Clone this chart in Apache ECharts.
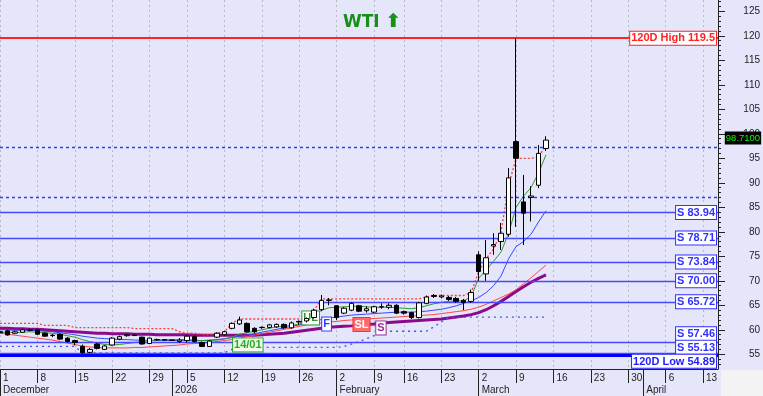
<!DOCTYPE html>
<html><head><meta charset="utf-8">
<script src="https://cdn.jsdelivr.net/npm/echarts@6/dist/echarts.min.js"></script>
<style>html,body{margin:0;padding:0;background:#e6e6fa}#c{width:763px;height:396px}</style>
</head><body><div id="c"></div>
<script>
// ---- categories: trading days (one missing day in the week of Feb 9) ----
const skippedDays = ['2026-02-13'];
const categories = [];
(function () {
  const d = new Date(2025, 11, 1);
  const p = n => (n < 10 ? '0' : '') + n;
  while (categories.length < 97) {
    const w = d.getDay();
    const s = d.getFullYear() + '-' + p(d.getMonth() + 1) + '-' + p(d.getDate());
    if (w > 0 && w < 6 && skippedDays.indexOf(s) < 0) categories.push(s);
    d.setDate(d.getDate() + 1);
  }
})();
const monthNames = ['January','February','March','April','May','June','July','August','September','October','November','December'];

// ---- candles ----
const opens  = [59.6,59.8,59.3,59.5,59.9,60.0,59.3,58.9,59.1,58.3, 57.8,56.6,55.4,57.1,56.0,56.9,58.1,58.8,58.9,58.5, 57.2,58.0,58.0,57.9,57.6,57.8,58.6,57.4,56.6,58.5, 59.0,60.3,61.2,61.3,60.3,60.5,60.5,60.6,61.1,60.4, 61.7,61.8,62.5,64.1,66.0,64.9,63.4,64.0,64.9,63.9, 63.6,64.7,64.6,65.0,63.7,63.5,62.5,65.4,66.8,66.7, 66.6,66.4,66.0,65.8,75.3,71.4,77.1,78.0,79.5,98.4, 86.1,87.0,89.5,97.0];
const closes = [59.4,58.95,59.6,60.0,60.0,59.1,58.7,58.85,58.1,57.6, 57.4,55.3,56.0,56.2,56.7,58.3,58.6,59.0,58.85,57.1, 58.3,57.95,57.9,57.85,57.9,58.7,57.6,56.6,57.7,59.3, 59.6,61.3,62.0,59.6,59.6,60.45,61.0,61.1,60.4,61.4, 61.6,62.3,64.0,66.0,66.1,62.5,64.4,65.4,63.8,64.3, 64.7,64.65,65.0,63.4,63.4,62.5,65.5,66.7,67.0,66.9, 66.2,65.8,65.6,67.6,71.9,74.7,77.4,79.7,91.0,95.0, 83.8,87.3,96.0,98.71];
const lows   = [59.2,58.8,59.1,59.4,59.7,59.0,58.6,58.5,57.9,57.4, 56.8,55.1,55.2,56.0,55.9,56.8,57.9,58.6,58.7,57.0, 57.1,57.8,57.7,57.8,57.3,57.4,57.4,56.5,56.5,58.3, 58.8,60.1,61.0,59.4,59.3,60.2,60.3,60.4,60.2,60.2, 61.0,61.5,62.3,63.8,65.0,62.0,63.2,63.8,63.6,63.5, 63.4,64.3,64.2,63.2,63.1,62.2,62.3,65.2,66.5,66.4, 65.9,65.5,64.0,65.5,70.0,70.0,75.3,76.3,79.0,81.0, 77.3,82.1,88.9,96.5];
const highs  = [59.9,60.0,59.8,60.2,60.3,60.2,59.5,59.1,59.3,58.5, 58.0,57.0,56.3,57.3,56.9,58.5,58.8,59.2,59.1,58.6, 58.4,58.2,58.1,58.0,58.3,58.9,58.8,57.6,57.9,59.5, 59.8,61.5,62.7,61.5,60.5,60.7,61.2,61.3,61.3,61.7, 61.9,62.5,64.3,67.1,66.5,65.0,64.6,65.6,65.1,64.8, 64.9,65.4,65.4,65.2,63.9,63.7,65.7,67.0,67.3,67.2, 66.9,66.7,66.3,68.2,76.0,78.3,79.7,81.8,93.0,119.5, 91.6,89.3,97.7,99.5];

// ---- indicator lines ----
const greenLine  = [59.5,59.5,59.4,59.5,59.6,59.5,59.4,59.3,59.1,58.8, 58.5,58.0,57.6,57.3,57.0,56.9,57.0,57.2,57.4,57.6, 57.8,57.9,58.0,58.0,58.0,58.0,57.9,57.8,57.8,57.9, 58.1,58.5,59.1,59.4,59.7,60.0,60.3,60.6,60.7,60.9, 61.2,61.7,62.8,64.0,64.5,64.6,64.7,64.8,64.8,64.7, 64.6,64.6,64.6,64.5,64.4,64.3,64.5,64.9,65.3,65.6, 65.8,65.9,65.9,66.8,70.5,72.2,74.0,75.9,79.7,85.0, 87.3,89.0,92.0,95.7];
const blueLine   = [60.0,60.0,59.9,59.9,59.9,59.8,59.7,59.6,59.4,59.2, 59.0,58.7,58.5,58.3,58.2,58.1,58.0,58.0,57.9,57.9, 57.8,57.8,57.8,57.8,57.8,57.8,57.8,57.8,57.9,58.0, 58.2,58.4,58.7,58.9,59.2,59.5,59.8,60.1,60.4,60.7, 61.0,61.3,61.7,62.1,62.4,62.6,62.8,63.0,63.1,63.2, 63.3,63.4,63.5,63.6,63.6,63.6,63.7,63.8,64.0,64.2, 64.5,64.9,65.4,65.9,66.6,67.6,69.0,71.0,74.5,77.0, 78.0,79.5,82.0,84.3];
const redLine    = [59.3,59.1,58.9,58.7,58.5,58.3,58.1,57.9,57.6,57.3, 57.0,56.7,56.5,56.4,56.3,56.3,56.3,56.3,56.4,56.4, 56.5,56.6,56.7,56.8,56.9,57.1,57.2,57.3,57.4,57.6, 57.8,58.0,58.3,58.6,58.9,59.2,59.5,59.8,60.1,60.4, 60.7,61.0,61.2,61.4,61.6,61.7,61.9,62.0,62.1,62.2, 62.3,62.4,62.5,62.6,62.7,62.8,62.9,63.0,63.1,63.3, 63.5,63.7,63.9,64.2,64.6,65.2,65.9,66.6,67.3,68.2, 69.4,70.6,71.9,73.2];
const purpleLine = [60.3,60.3,60.2,60.2,60.1,60.1,60.0,59.9,59.8,59.7, 59.6,59.5,59.4,59.3,59.3,59.2,59.2,59.2,59.1,59.1, 59.1,59.0,59.0,59.0,59.0,59.0,58.9,58.9,58.9,58.9, 58.9,58.9,58.9,58.9,58.9,59.0,59.1,59.2,59.3,59.5, 59.7,59.9,60.1,60.3,60.5,60.6,60.7,60.8,61.0,61.1, 61.2,61.4,61.5,61.6,61.7,61.8,61.9,62.0,62.1,62.2, 62.4,62.6,62.8,63.1,63.5,64.1,64.9,65.8,66.8,67.8, 68.8,69.7,70.5,71.2];
const upperStop  = [61.3,61.3,61.3,61.3,61.3,61.3,60.9,60.9,60.9,60.9, 60.45,60.45,60.45,60.45,60.45,60.45,60.45,60.45,60.25,60.25, 60.25,60.25,60.25,60.25,59.6,59.3,59.3,59.1,59.0,59.3, 59.6,61.3,62.2,62.2,62.2,62.2,62.2,62.2,62.2,62.2, 62.2,62.2,64.0,66.3,66.3,66.3,66.3,66.3,66.3,66.3, 66.3,66.3,66.3,66.3,66.3,66.3,66.3,66.7,67.0,67.0, 67.0,67.0,67.0,67.6,71.9,74.5,76.5,80.0,89.5,95.0, 95.0,95.0,95.2,97.7];
const lowerStop  = [56.6,56.6,56.6,56.6,56.6,56.6,56.6,56.6,56.6,56.6, 56.6,55.3,55.3,55.3,55.3,55.3,55.3,55.3,55.3,55.3, 55.3,55.3,55.3,55.3,55.3,55.3,55.3,55.3,55.3,55.3, 55.3,56.0,56.4,56.4,56.4,56.4,56.4,56.4,56.4,56.4, 56.4,56.4,56.4,56.4,56.4,56.4,56.6,57.1,57.6,58.2, 58.8,59.3,59.7,59.7,59.7,59.7,59.7,59.7,60.6,61.6, 62.6,62.6,62.6,62.6,62.6,62.6,62.6,62.6,62.6,62.6, 62.6,62.6,62.6,62.6];

// ---- horizontal levels ----
const supportLevels = [83.94, 78.71, 73.84, 70.00, 65.72, 57.46, 55.13];
const high120 = 119.5;
const low120 = 54.89;
const dottedLevels = [97.35, 87.1];
const lastPrice = 98.71;

// ---- y tick labels ----
const yTickValues = [55,60,65,70,75,80,85,90,95,100,105,110,115,120,125];
const yMinorValues = [];
for (let v = 53; v <= 127; v++) yMinorValues.push(v);

// ---- annotations (line, index, text) ----
const annUL = { idx: 41, text: 'UL' };
const annF = { idx: 44, text: 'F' };
const annSL = { idx: 48, text: 'SL' };
const annS = { idx: 51, text: 'S' };
const annDate = { idx: 32, text: '14/01' };

const FONT = 'Liberation Sans, Arial, sans-serif';
const toDate = s => { const a = s.split('-'); return new Date(+a[0], +a[1] - 1, +a[2]); };
const dates = categories.map(toDate);
const isWeekStart = i => i === 0 || dates[i].getDay() <= dates[i - 1].getDay();
const isMonthStart = i => i === 0 || dates[i].getMonth() !== dates[i - 1].getMonth();

const boxLabel = (color, bg, extra) => Object.assign({
  show: true, fontFamily: FONT, fontWeight: 'bold', fontSize: 11, color: color,
  backgroundColor: bg, borderColor: color, borderWidth: 1, padding: [1, 1, 0, 1], lineHeight: 12
}, extra || {});

function annPoint(seriesData, ann, color, bg, textColor, offset) {
  return {
    coord: [categories[ann.idx], seriesData[ann.idx]],
    label: boxLabel(textColor || color, bg, { borderColor: color, position: 'inside', offset: offset, formatter: ann.text })
  };
}

function lineSeries(name, data, color, width, type, z) {
  return {
    type: 'line', name: name, data: data, symbol: 'none', showSymbol: false, silent: true,
    lineStyle: { color: color, width: width, type: type }, z: z, emphasis: { disabled: true },
    animation: false
  };
}

const lineLabel = (text, color, position, distance) => boxLabel(color, '#ffffff', {
  position: position, distance: distance, formatter: text
});

const markLineData = [];
dottedLevels.forEach(v => markLineData.push({
  yAxis: v, lineStyle: { color: '#2b3dff', width: 1.3, type: [3, 3] }, label: { show: false }
}));
supportLevels.forEach((v) => {
  let pos = 'insideEnd', dist = [2, 0];
  if (v === 57.46) { pos = 'insideEndTop'; dist = [2, 2]; }
  if (v === 55.13) { pos = 'insideEndTop'; dist = [2, 0]; }
  markLineData.push({
    yAxis: v, lineStyle: { color: '#4848ff', width: 1.3, type: 'solid' },
    label: lineLabel('S ' + v.toFixed(2), '#3030ff', pos, dist)
  });
});
markLineData.push({
  yAxis: low120, lineStyle: { color: '#0000ff', width: 3, type: 'solid' },
  label: lineLabel('120D Low ' + low120, '#2020ff', 'insideEndBottom', [2, 0])
});
markLineData.push({
  yAxis: high120, lineStyle: { color: '#ff2424', width: 2, type: 'solid' },
  label: lineLabel('120D High ' + high120, '#ff2020', 'insideEnd', [2, 0])
});

const lastIdx = closes.length - 1;

const chart = echarts.init(document.getElementById('c'), null, { renderer: 'canvas' });
chart.setOption({
  animation: false,
  backgroundColor: '#e6e6fa',
  title: {
    text: 'WTI {a|⬆}', left: 338, top: 8,
    textStyle: { color: '#179017', fontSize: 17, fontWeight: 'bold', fontFamily: 'DejaVu Sans',
      rich: { a: { color: '#179017', fontSize: 19, fontFamily: 'DejaVu Sans', fontWeight: 'bold' } } }
  },
  grid: { left: -2, right: 43, top: 0, bottom: 27 },
  xAxis: [{
    type: 'category', data: categories, boundaryGap: false,
    axisLine: { show: true, lineStyle: { color: '#222', width: 1 } },
    axisTick: { show: true, interval: isWeekStart, length: 14, lineStyle: { color: '#222' } },
    axisLabel: { interval: isWeekStart, formatter: (v) => String(toDate(v).getDate()), align: 'left',
      padding: [0, 0, 0, 3], margin: 4, fontSize: 10, color: '#222', fontFamily: FONT },
    splitLine: { show: true, interval: isWeekStart, lineStyle: { color: '#b9b9c6', width: 1, type: [2, 3] } }
  }, {
    type: 'category', data: categories, boundaryGap: false, position: 'bottom',
    axisLine: { show: false },
    axisTick: { show: true, interval: isMonthStart, length: 27, lineStyle: { color: '#222' } },
    axisLabel: { interval: isMonthStart, formatter: (v) => { const d = toDate(v); return d.getMonth() === 0 ? String(d.getFullYear()) : monthNames[d.getMonth()]; },
      align: 'left', padding: [0, 0, 0, 3], margin: 16, fontSize: 10, color: '#222', fontFamily: FONT },
    splitLine: { show: false }
  }],
  yAxis: [{
    type: 'value', position: 'right', min: 52.0, max: 127.3, scale: true,
    axisLine: { show: true, lineStyle: { color: '#222', width: 1 } },
    axisTick: { show: true, customValues: yTickValues, length: 7, lineStyle: { color: '#222' } },
    axisLabel: { customValues: yTickValues, fontSize: 10, color: '#222', align: 'right', margin: 42, fontFamily: FONT },
    splitLine: { show: false }
  }, {
    type: 'value', position: 'right', min: 52.0, max: 127.3, scale: true,
    axisLine: { show: false },
    axisTick: { show: true, customValues: yMinorValues, length: 3, lineStyle: { color: '#222' } },
    axisLabel: { show: false },
    splitLine: { show: false }
  }],
  graphic: [{ type: 'rect', shape: { x: 721, y: 370, width: 42, height: 26 }, style: { fill: '#f3f3f3' }, z: 100 }],
  series: [
    {
      type: 'line', name: 'levels', data: categories.map(() => null), symbol: 'none', silent: true, clip: false, z: 2,
      markLine: { symbol: 'none', silent: true, animation: false, data: markLineData }
    },
    lineSeries('purple', purpleLine, '#8b0a8b', 3, 'solid', 3),
    lineSeries('red', redLine, '#ff4545', 1, 'solid', 3),
    lineSeries('blue', blueLine, '#3348ff', 1, 'solid', 3),
    lineSeries('green', greenLine, '#2f9a2f', 1, 'solid', 3),
    lineSeries('upperStop', upperStop, '#ff3c3c', 1.3, [2, 2], 3),
    lineSeries('lowerStop', lowerStop, '#3a55ff', 1.3, [2, 4], 3),
    {
      type: 'candlestick', name: 'WTI', z: 5, barWidth: 5, silent: true,
      data: opens.map((o, i) => [o, closes[i], lows[i], highs[i]]),
      itemStyle: { color: '#ffffff', color0: '#000000', borderColor: '#000000', borderColor0: '#000000', borderWidth: 1 }
    },
    {
      type: 'line', name: 'annotations', data: categories.map(() => null), symbol: 'none', silent: true, clip: false, z: 10,
      markPoint: {
        symbol: 'rect', symbolSize: 1, silent: true, animation: false, itemStyle: { color: 'rgba(0,0,0,0)' },
        data: [
          annPoint(greenLine, annUL, '#2c9a2c', '#ffffff', null, [4, -3.5]),
          annPoint(blueLine, annF, '#2b3dff', '#ffffff', null, [-2.5, 6]),
          annPoint(redLine, annSL, '#ff3030', '#ff6a6a', '#ffffff', [2.5, 5]),
          annPoint(purpleLine, annS, '#9a2d9a', '#ffffff', null, [-0.5, 5]),
          annPoint(lowerStop, annDate, '#2ca82c', '#eefbe9', null, [8.5, -2.5]),
          {
            coord: [categories[lastIdx], closes[lastIdx]],
            label: { show: true, position: 'inside', offset: [197, -2], formatter: closes[lastIdx].toFixed(4),
              color: '#00ff00', backgroundColor: '#000000', padding: [1, 1, 0, 1], fontSize: 9.5,
              lineHeight: 12, fontFamily: FONT }
          }
        ]
      }
    }
  ]
});
</script>
</body></html>
